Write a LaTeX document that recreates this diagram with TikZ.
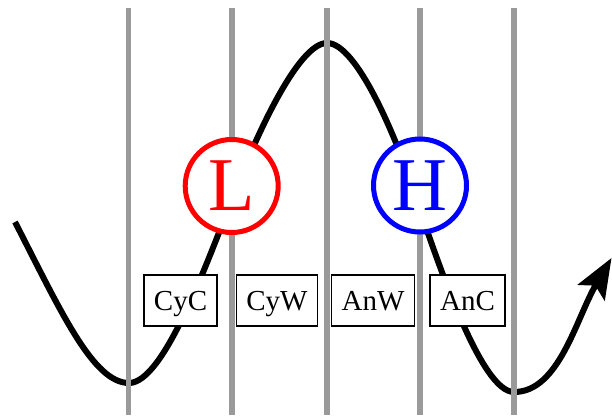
\documentclass[tikz,border=0pt]{standalone}
\usepackage{fontspec}
\setmainfont{Liberation Serif}
\usetikzlibrary{arrows.meta}
\begin{document}
\begin{tikzpicture}[x=1pt,y=-1pt,
  wavecurve/.style={line width=6pt, draw=black},
  guideline/.style={line width=5.5pt, draw={rgb,255:red,154;green,154;blue,154}},
  tagbox/.style={draw=black, line width=1.3pt, fill=white, inner xsep=10pt, inner ysep=0pt,
    minimum height=51pt, text height=19.5pt, text depth=0pt, font=\fontsize{29}{33}\selectfont},
  ringnode/.style={circle, line width=5pt, fill=white, minimum size=93pt, inner sep=0pt,
    font=\fontsize{76}{80}\selectfont}
]
\useasboundingbox (0,0) rectangle (612,415);
\fill[white] (0,0) rectangle (612,415);
% wave
\draw[wavecurve, -{Stealth[length=40pt,width=31pt,inset=8pt]}]
  (15,222) .. controls (60.7,310.9) and (93,383) .. (129,383)
  .. controls (164,383) and (208,260.6) .. (237,186)
  .. controls (253.3,144) and (297,43) .. (327,43)
  .. controls (357,43) and (396.2,138.6) .. (412,186)
  .. controls (440.4,271.4) and (482,392) .. (514,392)
  .. controls (559,392) and (576,318.6) .. (611.5,258);
% vertical guide lines
\foreach \gx in {128.5,232,327,420,514}
  \draw[guideline] (\gx,7.5) -- (\gx,415);
% boxes
\node[tagbox] (cyc) at (180.5,300.5) {CyC};
\node[tagbox] (cyw) at (277,300.5) {CyW};
\node[tagbox] (anw) at (373,300.5) {AnW};
\node[tagbox] (anc) at (467.5,300.5) {AnC};
% circles
\node[ringnode, draw=red, text=red] (L) at (231.7,186) {L};
\node[ringnode, draw=blue, text=blue] (H) at (420,185.5) {H};
\end{tikzpicture}
\end{document}
